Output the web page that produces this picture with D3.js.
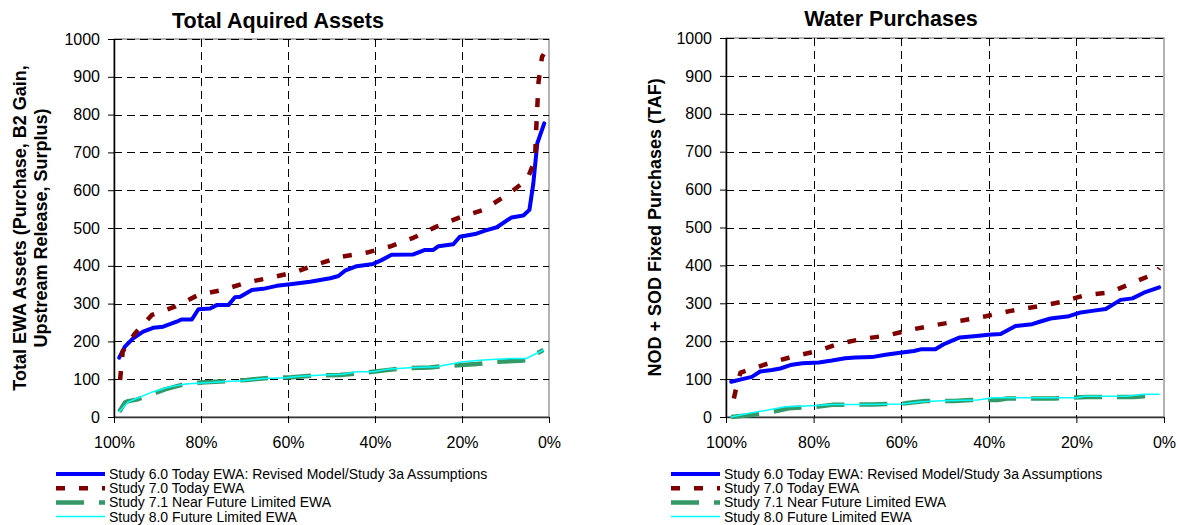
<!DOCTYPE html>
<html>
<head>
<meta charset="utf-8">
<script src="https://cdn.jsdelivr.net/npm/d3@7"></script>
<style>
  html, body { margin: 0; padding: 0; background: #fff; }
  svg { display: block; font-family: "Liberation Sans", Arial, Helvetica, sans-serif; }
</style>
</head>
<body>
<svg id="chart" width="1178" height="525"></svg>
<script>
// ---------- DATA ----------
// x = exceedance probability (%), y = value
const yTicks = [0, 100, 200, 300, 400, 500, 600, 700, 800, 900, 1000];
const xTicks = [100, 80, 60, 40, 20, 0];

const seriesNames = [
  "Study 6.0 Today EWA: Revised Model/Study 3a Assumptions",
  "Study 7.0 Today EWA",
  "Study 7.1 Near Future Limited EWA",
  "Study 8.0 Future Limited EWA"
];

// Left panel: Total Aquired Assets
const assetsStudy60 = [[98.8,157],[97.5,186],[95.6,208],[93.3,226],[91,236],[88.7,239],[85.6,252],[84.5,258],[82.1,258],[80.6,285],[77.9,287],[76.4,296],[73.7,296],[72.2,317],[71,318],[68.3,336],[65.7,339],[62.6,347],[59.5,351],[54.9,358],[50.3,367],[48.4,373],[46.9,387],[44.2,399],[40.4,405],[38.5,415],[36.2,429],[31.2,430],[28.5,442],[26.6,442],[25.4,452],[22,457],[20.5,477],[17,484],[14.7,493],[12,502],[8.6,528],[5.9,533],[4.5,548],[3.6,618],[2.7,724],[1.1,777]];
const assetsStudy70 = [[98.6,98],[98,173],[95.2,221],[91.3,270],[86,292],[80.6,323],[75,336],[69.5,356],[63.9,369],[58.4,383],[53,405],[47.7,424],[41.9,435],[36.6,451],[31.2,474],[26,503],[20.8,527],[15.1,548],[9.7,587],[5.1,627],[3.2,680],[3,750],[2.7,817],[2.4,887],[1.6,953],[1.2,960]];
const assetsStudy71 = [[98.8,14],[97.5,38],[96.7,42],[94.8,46],[90.6,63],[88.3,73],[84.4,85],[80.2,91],[74.1,95],[69.5,98],[64.1,104],[59.2,105],[53.4,110],[48,111],[43.4,116],[37.3,124],[33.5,129],[27.4,131],[23.5,135],[16.6,140],[12,146],[6.7,149],[4.4,151],[2.8,168],[1.3,177]];
const assetsStudy80 = [[98.8,14],[96.7,40],[94.8,49],[91,67],[87.1,80],[83.7,87],[77.9,91],[74.5,94],[70.3,96],[65.7,102],[60.3,104],[58,107],[51.9,111],[47.3,113],[44.2,120],[40.4,120],[37.3,126],[31.2,131],[25.8,133],[23.5,138],[19.7,146],[15.1,151],[9,155],[5.1,155],[3.6,164],[1.3,177]];

// Right panel: Water Purchases
const purchStudy60 = [[98.8,93],[96.3,100],[94.1,106],[92.2,120],[89.5,124],[87.6,128],[85.3,137],[82.6,142],[78.8,144],[75.8,149],[72.8,155],[70.5,157],[66.7,158],[63.6,164],[59.8,170],[57.1,174],[55.3,179],[52.2,179],[50.3,192],[48.9,199],[46.6,210],[42.8,214],[40.1,217],[37.3,219],[33.9,240],[30.1,245],[28.2,252],[25.9,260],[21.7,266],[19,276],[16.4,280],[13.3,285],[9.9,309],[7.2,313],[4.6,328],[1.1,342]];
const purchStudy70 = [[98.2,49],[97.8,70],[96.7,117],[91,139],[84.9,159],[79.2,174],[74.3,193],[68.9,206],[63.2,215],[57.5,231],[52,243],[46.4,254],[40.7,266],[35,280],[29.3,291],[23.6,303],[17.9,322],[12.2,329],[7.2,354],[1.9,379],[1.1,393]];
const purchStudy71 = [[98.8,0],[96,3],[90.3,11],[85.7,23],[79.6,27],[75.8,32],[66.7,33],[59.1,36],[54.5,42],[47.9,42],[44.1,45],[38,45],[35.8,49],[25.1,49],[17.5,53],[12.2,53],[6.8,53],[4.6,55],[1.5,55]];
const purchStudy80 = [[98.8,0],[94.8,10],[91,17],[86.5,27],[80.4,30],[75.8,33],[69,33],[59.8,34],[55.3,40],[50.7,43],[42.6,45],[38.8,51],[27.4,51],[19.8,51],[18.3,55],[8.4,55],[4.6,60],[1.1,60]];

// ---------- STYLES ----------
const seriesStyles = [
  { color: "#0000FF", width: 4,   dash: null },
  { color: "#800000", width: 4.5, dash: "9,14" },
  { color: "#339966", width: 4.5, dash: "28,15" },
  { color: "#00FFFF", width: 1.5, dash: null }
];

const svg = d3.select("#chart");

function drawPanel(cfg) {
  const x = d3.scaleLinear().domain([100, 0]).range([cfg.left, cfg.right]);
  const y = d3.scaleLinear().domain([0, 1000]).range([cfg.bottom, cfg.top]);
  const g = svg.append("g");

  // plot area border (gray)
  g.append("rect")
    .attr("x", cfg.left).attr("y", cfg.top)
    .attr("width", cfg.right - cfg.left).attr("height", cfg.bottom - cfg.top)
    .attr("fill", "none").attr("stroke", "#808080").attr("stroke-width", 1.2);

  // gridlines
  g.selectAll(".hgrid").data(yTicks.filter(d => d > 0)).enter().append("line")
    .attr("x1", cfg.left).attr("x2", cfg.right)
    .attr("y1", d => Math.round(y(d)) + 0.5).attr("y2", d => Math.round(y(d)) + 0.5)
    .attr("stroke", "#000").attr("stroke-width", 1).attr("stroke-dasharray", "8,5");
  g.selectAll(".vgrid").data(xTicks.filter(d => d > 0 && d < 100)).enter().append("line")
    .attr("y1", cfg.top).attr("y2", cfg.bottom)
    .attr("x1", d => Math.round(x(d)) + 0.5).attr("x2", d => Math.round(x(d)) + 0.5)
    .attr("stroke", "#000").attr("stroke-width", 1).attr("stroke-dasharray", "8,5");

  // axes
  const yAxis = g.append("g").attr("transform", `translate(${cfg.left},0)`)
    .call(d3.axisLeft(y).tickValues(yTicks).tickSize(6).tickSizeOuter(0).tickPadding(8)
      .tickFormat(d => String(d)));
  const xAxis = g.append("g").attr("transform", `translate(0,${cfg.bottom})`)
    .call(d3.axisBottom(x).tickValues(xTicks).tickSize(6).tickSizeOuter(0).tickPadding(14)
      .tickFormat(d => d + "%"));
  [yAxis, xAxis].forEach(a => {
    a.selectAll("text").attr("font-size", 16).attr("fill", "#000")
      .attr("font-family", '"Liberation Sans", Arial, sans-serif');
    a.select(".domain").attr("stroke", "#000").attr("stroke-width", 1.5);
    a.selectAll(".tick line").attr("stroke", "#000");
  });
  xAxis.select(".domain").attr("stroke", "#333");

  // series lines
  const line = d3.line().x(d => x(d[0])).y(d => y(d[1]));
  cfg.series.forEach((data, i) => {
    const s = seriesStyles[i];
    g.append("path").datum(data)
      .attr("d", line)
      .attr("fill", "none")
      .attr("stroke", s.color)
      .attr("stroke-width", s.width)
      .attr("stroke-linejoin", "round")
      .attr("stroke-linecap", s.dash ? "butt" : "round")
      .attr("stroke-dasharray", s.dash);
  });

  // title
  svg.append("text").attr("x", cfg.titleX).attr("y", cfg.titleY)
    .attr("text-anchor", "middle").attr("font-size", 21.5).attr("font-weight", "bold")
    .text(cfg.title);

  // y label
  const cy = (cfg.top + cfg.bottom) / 2;
  cfg.ylabel.forEach((t, i) => {
    svg.append("text")
      .attr("transform", `translate(${cfg.ylabelX[i]},${cy}) rotate(-90)`)
      .attr("text-anchor", "middle").attr("font-size", 18).attr("font-weight", "bold")
      .text(t);
  });

  // legend
  const lg = svg.append("g");
  seriesNames.forEach((name, i) => {
    const s = seriesStyles[i];
    const by = cfg.legendY + i * 14.2;
    lg.append("line")
      .attr("x1", cfg.legendX).attr("x2", cfg.legendX + 49)
      .attr("y1", by - 5).attr("y2", by - 5)
      .attr("stroke", s.color).attr("stroke-width", s.width)
      .attr("stroke-dasharray", s.dash);
    lg.append("text").attr("x", cfg.legendX + 53).attr("y", by)
      .attr("font-size", 14).attr("fill", "#000").text(name);
  });
}

drawPanel({
  left: 114, right: 549, top: 39, bottom: 417,
  title: "Total Aquired Assets", titleX: 278, titleY: 28,
  ylabel: ["Total EWA Assets (Purchase, B2 Gain,", "Upstream Release, Surplus)"],
  ylabelX: [26, 47],
  legendX: 56, legendY: 479,
  series: [assetsStudy60, assetsStudy70, assetsStudy71, assetsStudy80]
});

drawPanel({
  left: 726, right: 1164, top: 38, bottom: 417,
  title: "Water Purchases", titleX: 891, titleY: 26,
  ylabel: ["NOD + SOD Fixed Purchases (TAF)"],
  ylabelX: [661],
  legendX: 671, legendY: 479,
  series: [purchStudy60, purchStudy70, purchStudy71, purchStudy80]
});
</script>
</body>
</html>
